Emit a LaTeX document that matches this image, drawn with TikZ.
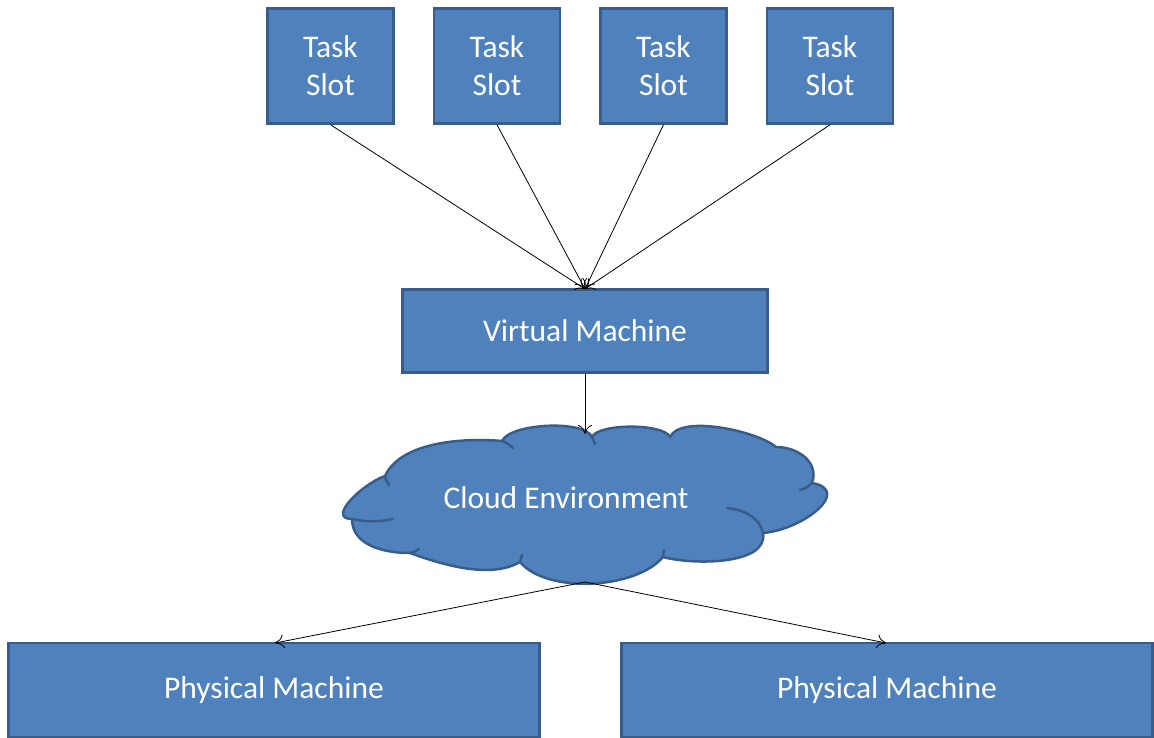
\documentclass[tikz,border=0pt]{standalone}
\usepackage{fontspec}
\setmainfont{Carlito}
\usetikzlibrary{arrows.meta}
\definecolor{boxfill}{HTML}{4F81BD}
\definecolor{boxline}{HTML}{385D8A}
\tikzset{
  blk/.style={draw=boxline, line width=2.5pt, fill=boxfill, text=white, font=\fontsize{31.5}{38}\selectfont, align=center, inner sep=0pt},
  cloudfill/.style={draw=boxline, line width=2.5pt, fill=boxfill, line join=round},
  cloudinner/.style={draw=boxline, line width=2.5pt, line cap=round},
  lbl/.style={text=white, font=\fontsize{31.5}{38}\selectfont, inner sep=0pt},
  conn/.style={draw=black, line width=0.8pt, -{To[length=9pt,width=14pt]}}
}
\begin{document}
\begin{tikzpicture}[x=1pt,y=1pt]
\useasboundingbox (0,-738) rectangle (1154,0);
\node[blk, minimum width=126pt, minimum height=115pt] (t1) at (330.5,-66) {Task\\Slot};
\node[blk, minimum width=126pt, minimum height=115pt] (t2) at (497,-66) {Task\\Slot};
\node[blk, minimum width=126pt, minimum height=115pt] (t3) at (663.5,-66) {Task\\Slot};
\node[blk, minimum width=126pt, minimum height=115pt] (t4) at (830,-66) {Task\\Slot};
\node[blk, minimum width=365pt, minimum height=83pt] (vm) at (585,-331) {Virtual Machine};
% cloud
\draw[cloudfill] (385,-476) to[out=65,in=175,looseness=0.8] (502,-441)
  to[out=65,in=115,looseness=0.55] (592,-437)
  to[out=65,in=115,looseness=0.5] (670,-437)
  to[out=65,in=140,looseness=0.6] (776,-447)
  to[out=0,in=70,looseness=1.1] (812,-483)
  to[out=-10,in=5,looseness=1.5] (763,-533)
  to[out=-80,in=-15,looseness=0.8] (663,-557)
  to[out=-130,in=-50,looseness=0.75] (520,-562)
  to[out=-150,in=-20,looseness=0.8] (410,-553)
  to[out=180,in=-90] (352,-519)
  to[out=180,in=200,looseness=1.2] (385,-476) -- cycle;
\draw[cloudinner] (352,-519) .. controls (365,-522) and (380,-522) .. (393,-519);
\draw[cloudinner] (763,-533) .. controls (760,-518) and (745,-510) .. (727,-508);
\draw[cloudinner] (812,-483) .. controls (808,-487) and (804,-489) .. (800,-490);
\draw[cloudinner] (410,-553) .. controls (414,-552) .. (419,-549);
\draw[cloudinner] (502,-441) .. controls (507,-443) .. (513,-448);
\draw[cloudinner] (592,-437) .. controls (594,-440) .. (595,-444);
\draw[cloudinner] (520,-562) .. controls (521,-559) .. (522,-555);
\draw[cloudinner] (663,-557) .. controls (664,-554) .. (664,-550);
\draw[cloudinner] (385,-476) .. controls (386,-480) .. (389,-485);
\node[lbl] (cl) at (566,-498) {Cloud Environment};
\node[blk, minimum width=531pt, minimum height=94pt] (p1) at (274,-690) {Physical Machine};
\node[blk, minimum width=531pt, minimum height=94pt] (p2) at (887,-690) {Physical Machine};
\coordinate (vmtop) at (585,-289);
\coordinate (cltop) at (585,-434);
\coordinate (clbot) at (585,-582);
\coordinate (p1top) at (275,-643);
\coordinate (p2top) at (886,-643);
\draw[conn] (t1.south) -- (vmtop);
\draw[conn] (t2.south) -- (vmtop);
\draw[conn] (t3.south) -- (vmtop);
\draw[conn] (t4.south) -- (vmtop);
\draw[conn] (vm.south) -- (cltop);
\draw[conn] (clbot) -- (p1top);
\draw[conn] (clbot) -- (p2top);
\end{tikzpicture}
\end{document}
